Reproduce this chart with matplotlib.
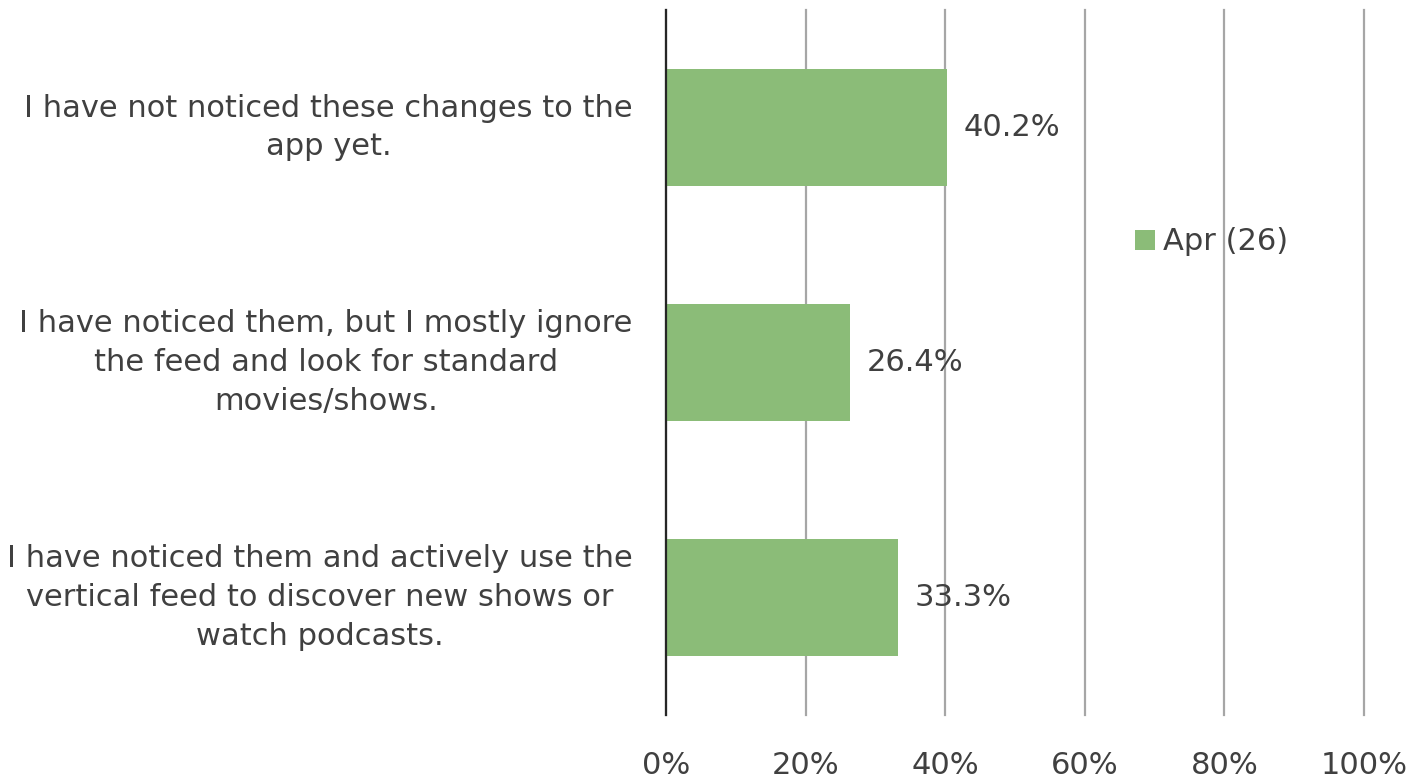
import matplotlib.pyplot as plt

# survey answers and share of respondents
categories = [
    "I have not noticed these changes to the\napp yet.",
    "I have noticed them, but I mostly ignore\nthe feed and look for standard\nmovies/shows.",
    "I have noticed them and actively use the\nvertical feed to discover new shows or\nwatch podcasts.",
]
values = [40.2, 26.4, 33.3]
series_name = "Apr (26)"
x_ticks = [0, 20, 40, 60, 80, 100]
x_tick_labels = ["0%", "20%", "40%", "60%", "80%", "100%"]

bar_color = "#8BBC78"
text_color = "#404040"
plt.rcParams['font.family'] = ['DejaVu Sans']

fig = plt.figure(figsize=(14.27, 7.8), dpi=100)
ax = fig.add_axes([666 / 1427, 65 / 780, 698 / 1427, 705 / 780])

pos = list(range(len(categories)))
ax.barh(pos, values, height=0.495, color=bar_color, label=series_name, zorder=2)

# value labels right of each bar
for p, v in zip(pos, values):
    ax.annotate(f"{v:.1f}%", (v, p), xytext=(12, 0), textcoords="offset points",
                va="center", ha="left", fontsize=22, color=text_color)

ax.set_xlim(0, 100)
ax.set_ylim(len(categories) - 0.5, -0.5)
ax.set_xticks(x_ticks)
ax.set_xticklabels(x_tick_labels, fontsize=22, color=text_color)
ax.set_yticks(pos)
ax.set_yticklabels(categories, fontsize=22, color=text_color, va="center",
                   multialignment="center", linespacing=1.42)
ax.tick_params(axis="x", length=0, pad=26)
ax.tick_params(axis="y", length=0, pad=24)

ax.grid(axis="x", color="#A6A6A6", linewidth=1.6, zorder=1)
for gl in ax.get_xgridlines():
    gl.set_clip_on(False)
ax.set_axisbelow(True)
for s in ["top", "right", "bottom"]:
    ax.spines[s].set_visible(False)
ax.spines["left"].set_color("#262626")
ax.spines["left"].set_linewidth(1.6)
ax.spines["left"].set_zorder(3)

fig.legend(loc="center left", bbox_to_anchor=(1120 / 1427, 1 - 242 / 780),
           frameon=False, fontsize=22, handlelength=0.65, handleheight=0.65,
           handletextpad=0.25, borderpad=0, labelcolor=text_color)

fig.savefig("out.png", dpi=100)
